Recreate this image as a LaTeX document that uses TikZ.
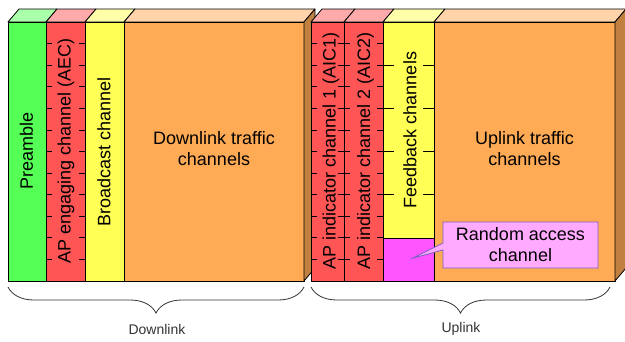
\documentclass[tikz,border=0pt]{standalone}
\usepackage{fontspec}
\setmainfont{Liberation Sans}
\usepackage{xcolor}
\usetikzlibrary{decorations.pathreplacing}
\definecolor{prgreen}{HTML}{55FF55}
\definecolor{chred}{HTML}{FF5555}
\definecolor{chyellow}{HTML}{FFFF55}
\definecolor{trorange}{HTML}{FFAA55}
\definecolor{blkside}{HTML}{C08040}
\definecolor{racmagenta}{HTML}{FF55FF}
\definecolor{racpink}{HTML}{FFAAFF}
\definecolor{racborder}{HTML}{7B60C0}

\begin{document}
\begin{tikzpicture}[x=1pt, y=-1pt,
  face/.style={draw=black, line width=0.8pt, line join=round},
  chtick/.style={black, line width=0.8pt},
  vlabel/.style={rotate=90, inner sep=0pt, font=\fontsize{18}{20.5}\selectfont},
  hlabel/.style={align=center, inner sep=0pt, font=\fontsize{18}{20.5}\selectfont},
  brlabel/.style={font=\fontsize{14}{16}\selectfont, text=black!80},
  linkbrace/.style={decorate, decoration={brace, mirror, amplitude=26pt}, black!80, line width=0.8pt},
]
  \useasboundingbox (0,0) rectangle (625,341);

  % Downlink block
  \foreach \xl/\xr/\fc in {8/46/prgreen, 46/85/chred, 85/124/chyellow, 124/304/trorange} {
    \draw[face, fill=\fc!50!white] (\xl,22) -- ++(11,-13) -- (\xr+11,9) -- (\xr,22) -- cycle;
    \draw[face, fill=\fc] (\xl,22) rectangle (\xr,281);
  }
  \draw[face, fill=blkside] (304,22) -- (315,9) -- (315,268) -- (304,281) -- cycle;

  % Uplink block
  \foreach \xl/\xr/\fc in {311/344/chred, 344/383/chred, 383/434/chyellow, 434/615/trorange} {
    \draw[face, fill=\fc!50!white] (\xl,22) -- ++(11,-13) -- (\xr+11,9) -- (\xr,22) -- cycle;
    \draw[face, fill=\fc] (\xl,22) rectangle (\xr,281);
  }
  \draw[face, fill=blkside] (615,22) -- (626,9) -- (626,268) -- (615,281) -- cycle;
  \draw[face, fill=racmagenta] (383,238) rectangle (434,281);

  % Slot ticks
  \foreach \xl/\xr in {46/85, 311/344, 344/383}
    \foreach \k in {1,...,11}
      \draw[chtick] (\xl,22+\k*21.58) -- ++(6,0) (\xr,22+\k*21.58) -- ++(-6,0);
  \foreach \k in {2,4,6,8}
    \draw[chtick] (383,22+\k*21.58) -- ++(11,0) (434,22+\k*21.58) -- ++(-11,0);

  % Channel names
  \node[vlabel] (preamble) at (26.5,151) {Preamble};
  \node[vlabel] (aec) at (66,151) {AP engaging channel (AEC)};
  \node[vlabel] (bcast) at (104,152) {Broadcast channel};
  \node[hlabel] (dltraffic) at (214,148.5) {Downlink traffic\\channels};
  \node[vlabel] (aic1) at (331,151) {AP indicator channel 1 (AIC1)};
  \node[vlabel] (aic2) at (365.5,151) {AP indicator channel 2 (AIC2)};
  \node[vlabel] (feedback) at (410,130) {Feedback channels};
  \node[hlabel] (ultraffic) at (524.5,148.5) {Uplink traffic\\channels};

  % Random access callout
  \draw[racborder, fill=racpink, line width=0.8pt, line join=miter]
    (443,222) -- (598,222) -- (598,268) -- (443,268) -- (443,250)
    -- (413,258) -- (443,243) -- cycle;
  \node[hlabel, font=\fontsize{18}{21}\selectfont] (rac) at (520.5,245) {Random access\\channel};

  % Braces
  \coordinate (dlleft) at (8,287);
  \coordinate (dlright) at (304,287);
  \coordinate (ulleft) at (311,287);
  \coordinate (ulright) at (610,287);
  \draw[linkbrace] (dlleft) -- (dlright);
  \draw[linkbrace] (ulleft) -- (ulright);
  \node[brlabel] (dllabel) at (157,329) {Downlink};
  \node[brlabel] (ullabel) at (461,329) {Uplink};
\end{tikzpicture}
\end{document}
